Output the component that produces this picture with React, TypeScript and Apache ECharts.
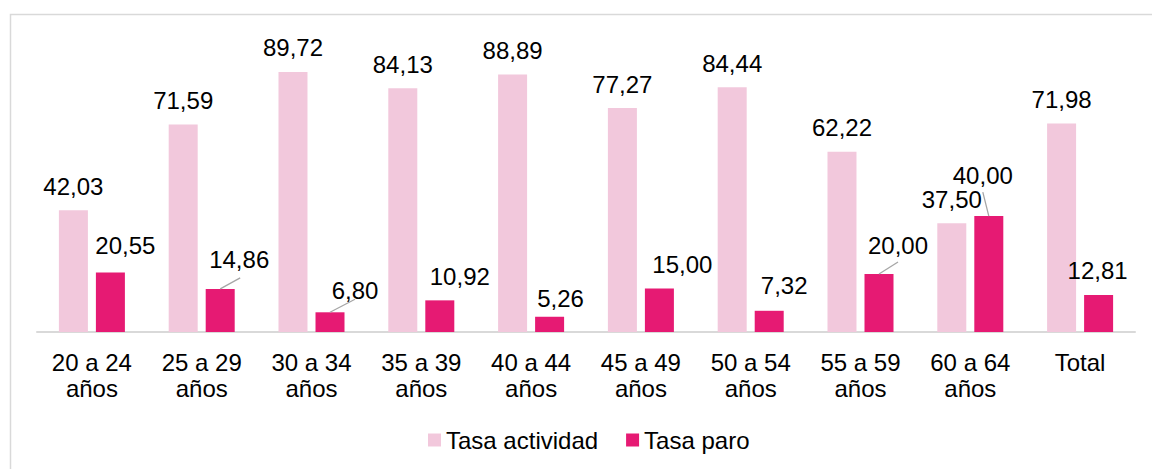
import React, { useEffect, useRef } from "react";
import * as echarts from "echarts";

const categories = [
  "20 a 24\naños",
  "25 a 29\naños",
  "30 a 34\naños",
  "35 a 39\naños",
  "40 a 44\naños",
  "45 a 49\naños",
  "50 a 54\naños",
  "55 a 59\naños",
  "60 a 64\naños",
  "Total",
];
const tasaActividad = [42.03, 71.59, 89.72, 84.13, 88.89, 77.27, 84.44, 62.22, 37.5, 71.98];
const tasaParo = [20.55, 14.86, 6.8, 10.92, 5.26, 15.0, 7.32, 20.0, 40.0, 12.81];

// label nudges (styling) for the "Tasa paro" labels
const paroLabelDx = [15, 19, 25, 20, 11, 23, 15, 19, -6, -1];
const paroLabelDy = [-3, -5, 2, 0, 6, 0, -1, -5, -17, 0];
// leader line end offsets (styling), relative to the top centre of the bar; null = no line
const paroLeaderEnd: (number[] | null)[] = [null, [20, -11], [25, -13], null, null, null, null, [19, -12], [-6, -24]];

const FONT = "'Liberation Sans', Arial, sans-serif";
const FS = 24;
const BAR_W = 29;
const BAR_SHIFT = 18.5;
const fmt = (v: number) => v.toFixed(2).replace(".", ",");

export default function App() {
  const ref = useRef<HTMLDivElement>(null);
  useEffect(() => {
    if (!ref.current) return;
    const chart = echarts.init(ref.current, undefined, { renderer: "svg" });
    chart.setOption({
      animation: false,
      backgroundColor: "#ffffff",
      textStyle: { fontFamily: FONT },
      graphic: [
        {
          type: "rect",
          left: 8,
          top: 12,
          shape: { x: 0, y: 0, width: 1170, height: 480 },
          style: { fill: "none", stroke: "#d9d9d9", lineWidth: 1.5 },
          silent: true,
        },
      ],
      grid: { left: 37, right: 17, top: 42.2, bottom: 137, containLabel: false },
      legend: {
        bottom: 17,
        left: 428,
        itemWidth: 13,
        itemHeight: 13,
        itemGap: 28,
        icon: "rect",
        padding: 0,
        textStyle: { fontSize: FS, color: "#000", fontFamily: FONT },
        data: ["Tasa actividad", "Tasa paro"],
      },
      xAxis: {
        type: "category",
        data: categories,
        axisLine: { show: true, lineStyle: { color: "#d9d9d9", width: 2 } },
        axisTick: { show: false },
        axisLabel: {
          fontSize: FS,
          color: "#000",
          fontFamily: FONT,
          margin: 17,
          lineHeight: 26,
          interval: 0,
        },
      },
      yAxis: {
        type: "value",
        min: 0,
        max: 100,
        show: false,
        splitLine: { show: false },
      },
      series: [
        {
          name: "Tasa actividad",
          type: "bar",
          barWidth: BAR_W,
          barGap: "27.6%",
          itemStyle: { color: "#F2C8DC" },
          data: tasaActividad,
          label: {
            show: true,
            position: "top",
            distance: 12,
            fontSize: FS,
            color: "#000",
            fontFamily: FONT,
            formatter: (p: any) => fmt(p.value),
          },
        },
        {
          name: "Tasa paro",
          type: "bar",
          barWidth: BAR_W,
          itemStyle: { color: "#E61A73" },
          data: tasaParo,
          label: {
            show: true,
            position: "top",
            distance: 12,
            fontSize: FS,
            color: "#000",
            fontFamily: FONT,
            formatter: (p: any) => fmt(p.value),
          },
          labelLayout: (p: any) => ({ dx: paroLabelDx[p.dataIndex], dy: paroLabelDy[p.dataIndex] }),
        },
        {
          name: "leader",
          type: "custom",
          silent: true,
          z: 5,
          data: tasaParo.map((v, i) => [i, v]),
          renderItem: (params: any, api: any) => {
            const i = api.value(0);
            const end = paroLeaderEnd[i];
            if (!end) return null;
            const p = api.coord([i, api.value(1)]);
            const x0 = p[0] + BAR_SHIFT;
            const y0 = p[1];
            return {
              type: "line",
              shape: { x1: x0, y1: y0, x2: x0 + end[0], y2: y0 + end[1] },
              style: { stroke: "#a6a6a6", lineWidth: 1.3 },
            };
          },
        },
      ],
    });
    return () => chart.dispose();
  }, []);
  return (
    <div
      ref={ref}
      style={{ position: "fixed", left: 0, top: 0, width: 1152, height: 469 }}
    />
  );
}
